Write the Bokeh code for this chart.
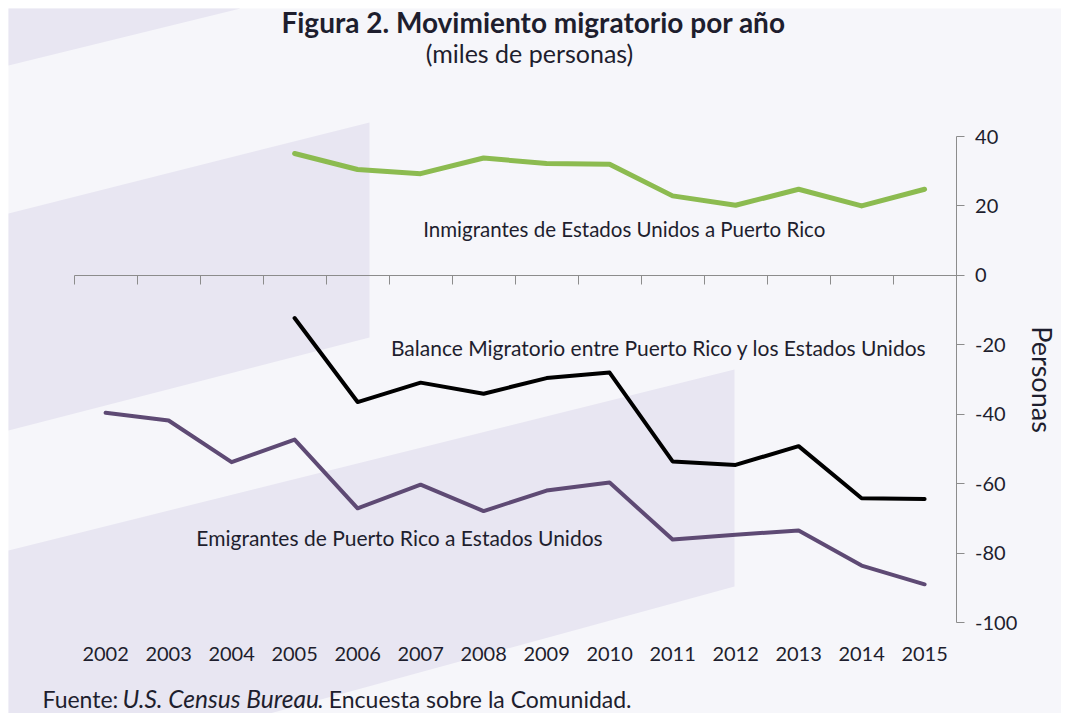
from bokeh.plotting import figure
from bokeh.models import LinearAxis, FixedTicker, Range1d, Label, CustomJSTickFormatter
from bokeh.embed import file_html
from bokeh.resources import INLINE

# ---------------- data (miles de personas) ----------------
years_all = [2002, 2003, 2004, 2005, 2006, 2007, 2008, 2009, 2010, 2011, 2012, 2013, 2014, 2015]
years_from_2005 = [2005, 2006, 2007, 2008, 2009, 2010, 2011, 2012, 2013, 2014, 2015]
inmigrantes = [35.1, 30.5, 29.3, 33.8, 32.2, 32.0, 22.9, 20.2, 24.8, 20.0, 24.8]
balance = [-12.3, -36.5, -30.9, -34.1, -29.6, -28.0, -53.6, -54.6, -49.2, -64.2, -64.4]
emigrantes = [-39.6, -41.8, -53.8, -47.3, -67.1, -60.3, -67.9, -62.0, -59.7, -76.1, -74.7, -73.5, -83.6, -89.0]
y_ticks = [40, 20, 0, -20, -40, -60, -80, -100]

# ---------------- geometry / styles ----------------
W, H = 1061, 713
X_FIRST = 105.1               # px of first category centre
X_STEP = 63.0                 # px per category
Y_ZERO = 274.86               # px of value 0
Y_UNIT = 3.4714               # px per unit

X0 = years_all[0] - X_FIRST / X_STEP
X1 = X0 + W / X_STEP
Y1 = Y_ZERO / Y_UNIT
Y0 = Y1 - H / Y_UNIT


def dx(px):
    return X0 + px / X_STEP


def dy(py):
    return Y1 - py / Y_UNIT


BG = "#F6F6FA"
BAND = "#E8E6F2"
GREEN = "#8CBB50"
PURPLE = "#5E4A74"
AXIS = "#8C8C8C"
TXT = "#1E1E2E"
FONT = "Lato"

p = figure(width=W, height=H, x_range=Range1d(X0, X1), y_range=Range1d(Y0, Y1),
           output_backend="svg", toolbar_location=None, min_border=0,
           x_axis_type=None, y_axis_type=None)
p.background_fill_color = "white"
p.border_fill_color = "white"
p.outline_line_color = None

# chart area background (white margin at top/left as in the reference)
p.quad(left=dx(8), right=dx(W + 20), top=dy(8), bottom=dy(H + 20), fill_color=BG, line_color=None)

# decorative background bands
bands = [
    [(8, 8), (240, 8), (8, 65)],
    [(8, 213), (369, 122), (369, 337), (8, 430)],
    [(8, 550), (734, 369), (734, 586), (240, 721), (8, 721)],
]
p.patches([[dx(a) for a, b in poly] for poly in bands],
          [[dy(b) for a, b in poly] for poly in bands],
          fill_color=BAND, line_color=None)

# x axis at zero with category boundary ticks
bounds_ticks = [y - 0.5 for y in years_all] + [years_all[-1] + 0.5]
ax0 = LinearAxis(fixed_location=0, ticker=FixedTicker(ticks=bounds_ticks),
                 bounds=(bounds_ticks[0], bounds_ticks[-1]))
ax0.axis_line_color = AXIS
ax0.major_tick_line_color = AXIS
ax0.major_tick_out = 9
ax0.major_tick_in = 0
ax0.minor_tick_line_color = None
ax0.major_label_text_font_size = "0px"
ax0.major_label_text_color = None
p.add_layout(ax0, "below")

# year labels
axy = LinearAxis(fixed_location=dy(643), ticker=FixedTicker(ticks=years_all),
                 formatter=CustomJSTickFormatter(code="return String(tick)"))
axy.axis_line_color = None
axy.major_tick_line_color = None
axy.minor_tick_line_color = None
axy.major_tick_out = 0
axy.major_tick_in = 0
axy.major_label_standoff = 3
axy.major_label_text_font = FONT
axy.major_label_text_font_size = "20px"
axy.major_label_text_color = TXT
p.add_layout(axy, "below")

# right value axis
ayr = LinearAxis(fixed_location=years_all[-1] + 0.5, ticker=FixedTicker(ticks=y_ticks),
                 bounds=(y_ticks[-1], y_ticks[0]), axis_label="Personas",
                 formatter=CustomJSTickFormatter(code="return String(tick)"))
ayr.axis_line_color = AXIS
ayr.major_tick_line_color = AXIS
ayr.minor_tick_line_color = None
ayr.major_tick_out = 8
ayr.major_tick_in = 0
ayr.major_label_standoff = 11
ayr.major_label_text_font = FONT
ayr.major_label_text_font_size = "20px"
ayr.major_label_text_color = TXT
ayr.axis_label_text_font = FONT
ayr.axis_label_text_font_size = "27px"
ayr.axis_label_text_font_style = "normal"
ayr.axis_label_text_color = TXT
ayr.axis_label_standoff = 5
p.add_layout(ayr, "right")

# series
p.line(years_from_2005, inmigrantes, line_color=GREEN, line_width=5, line_join="round", line_cap="round")
p.line(years_from_2005, balance, line_color="black", line_width=4, line_join="round", line_cap="round")
p.line(years_all, emigrantes, line_color=PURPLE, line_width=4, line_join="round", line_cap="round")


def label(text, px, py, size, align="left", style="normal"):
    p.add_layout(Label(x=dx(px), y=dy(py), text=text, text_font=FONT, text_font_size=size,
                       text_font_style=style, text_color=TXT, text_align=align,
                       text_baseline="middle"))


label("Figura 2. Movimiento migratorio por año", 533, 21, "28px", "center", "bold")
label("(miles de personas)", 529, 52, "25px", "center")
label("Inmigrantes  de  Estados Unidos a Puerto Rico", 629, 228, "20.5px", "center")
label("Balance  Migratorio entre Puerto Rico y los Estados Unidos", 661, 347, "21px", "center")
label("Emigrantes de Puerto Rico a Estados Unidos", 399, 537, "21px", "center")
label("Fuente: ", 42, 698, "23px")
label("U.S. Census Bureau", 122, 698, "24.5px", "left", "italic")
label(". Encuesta sobre la Comunidad.", 317, 698, "23px")

open("out.html", "w").write(file_html(p, INLINE))
